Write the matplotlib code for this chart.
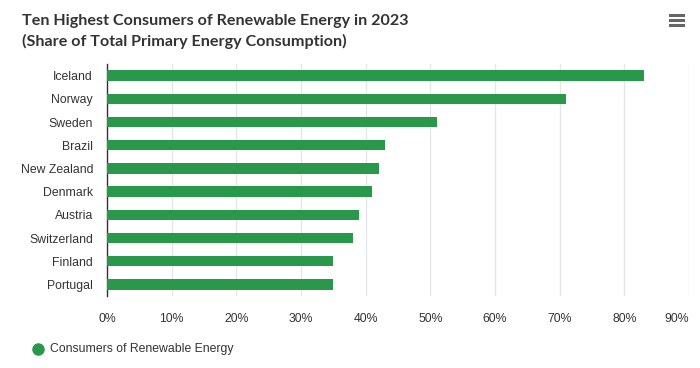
import numpy as np
import matplotlib.pyplot as plt
from matplotlib.lines import Line2D

plt.rcParams['font.family'] = ['Liberation Sans', 'DejaVu Sans']

# Datos
paises = ["Iceland", "Norway", "Sweden", "Brazil", "New Zealand",
          "Denmark", "Austria", "Switzerland", "Finland", "Portugal"]
porcentajes = [83, 71, 51, 43, 42, 41, 39, 38, 35, 35]
ticks_x = [0, 10, 20, 30, 40, 50, 60, 70, 80, 90]
serie = "Consumers of Renewable Energy"
titulo = ["Ten Highest Consumers of Renewable Energy in 2023",
          "(Share of Total Primary Energy Consumption)"]
verde = "#2a984a"

fig = plt.figure(figsize=(7, 3.68), dpi=100)
ax = fig.add_axes([107/700, 1 - 296/368, (689-107)/700, (296-64)/368])

y = np.arange(len(paises))
ax.barh(y, porcentajes, height=0.44, color=verde, edgecolor="none", zorder=3)
ax.set_ylim(len(paises) - 0.5, -0.5)
ax.set_xlim(0, 90)

ax.set_yticks(y)
ax.set_yticklabels(paises, fontsize=8.8, color="#333333")
ax.set_xticks(ticks_x)
etiquetas = ax.set_xticklabels([f"{t}%" for t in ticks_x], fontsize=8.8, color="#333333")
etiquetas[-1].set_ha("right")
ax.tick_params(axis="both", length=0)
ax.tick_params(axis="y", pad=10)
ax.tick_params(axis="x", pad=12)

ax.grid(axis="x", color="#e6e6e6", linewidth=1, zorder=0)
for s in ["top", "right", "bottom"]:
    ax.spines[s].set_visible(False)
ax.spines["left"].set_color("#333333")
ax.spines["left"].set_linewidth(1)

# Titulo (dos lineas)
for i, linea in enumerate(titulo):
    fig.text(22/700, 1 - (25 + 21*i)/368, linea, fontsize=11.6, fontweight="bold",
             color="#333333", va="baseline", ha="left", family=["Lato", "Liberation Sans"])

# Icono de menu
for yy in [15, 20, 25]:
    fig.add_artist(Line2D([670/700, 683/700], [1 - yy/368, 1 - yy/368], color="#666666", linewidth=2.2))

# Leyenda
fig.add_artist(Line2D([38/700], [1 - 349/368], marker="o", markersize=8, color=verde, linestyle="none"))
fig.text(50/700, 1 - 349/368, serie, fontsize=8.8, color="#333333", va="center", ha="left")

fig.savefig("out.png", dpi=100)
